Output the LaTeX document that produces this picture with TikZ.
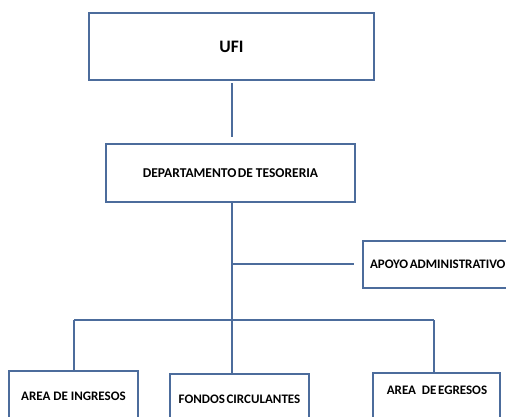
\documentclass[tikz,border=0pt]{standalone}
\usepackage{fontspec}
\setmainfont{Carlito}
\definecolor{boxblue}{RGB}{76,108,156}
\tikzset{
  orgbox/.style={draw=boxblue, line width=1.8pt, rectangle, inner sep=0pt, font=\bfseries, text=black},
  link/.style={draw=boxblue, line width=1.8pt}
}
\begin{document}
\begin{tikzpicture}[x=1pt,y=-1pt]
\useasboundingbox (0,0) rectangle (506,416);
\clip (0,0) rectangle (506,416);
\node[orgbox, minimum width=285pt, minimum height=67pt, font=\bfseries\fontsize{17.5}{20}\selectfont] (ufi) at (231.5,46.5) {UFI};
\node[orgbox, minimum width=249pt, minimum height=58pt, font=\bfseries\fontsize{13.5}{16}\selectfont] (dep) at (230.5,173) {DEPARTAMENTO\hspace{0.1em}DE TESORERIA};
\node[orgbox, minimum width=160pt, minimum height=47pt, text width=146pt, align=left, inner xsep=7pt, font=\bfseries\fontsize{13}{15}\selectfont] (apoyo) at (443,264.5) {APOYO\hspace{0.12em}ADMINISTRATIVO};
\node[orgbox, minimum width=129pt, minimum height=50pt, font=\bfseries\fontsize{13}{15}\selectfont] (ing) at (73.5,396) {AREA DE INGRESOS};
\node[orgbox, minimum width=139pt, minimum height=50pt, font=\bfseries\fontsize{13}{15}\selectfont] (fon) at (239.5,399) {FONDOS\hspace{0.12em}CIRCULANTES};
\node[orgbox, minimum width=127pt, minimum height=60pt] (egr) at (436.5,403) {};
\node[font=\bfseries\fontsize{13}{15}\selectfont, inner sep=0pt] (egrt) at (437,390) {AREA\ \ DE\hspace{0.12em}EGRESOS};
\coordinate (ap) at (232,264);
\coordinate (busL) at (74,320);
\coordinate (busM) at (232,320);
\coordinate (busR) at (434,320);
\coordinate (uf) at (232,80);
\coordinate (dp) at (232,144);
\draw[link, shorten <=3pt, shorten >=7pt] (uf) -- (dp);
\draw[link] (232,202) -- (busM);
\draw[link, shorten >=8pt] (ap) -- (ap -| apoyo.west);
\draw[link] (busL) -- (busR);
\draw[link] (busL) -- (busL |- ing.north);
\draw[link] (busM) -- (busM |- fon.north);
\draw[link] (busR) -- (busR |- egr.north);
\end{tikzpicture}
\end{document}
